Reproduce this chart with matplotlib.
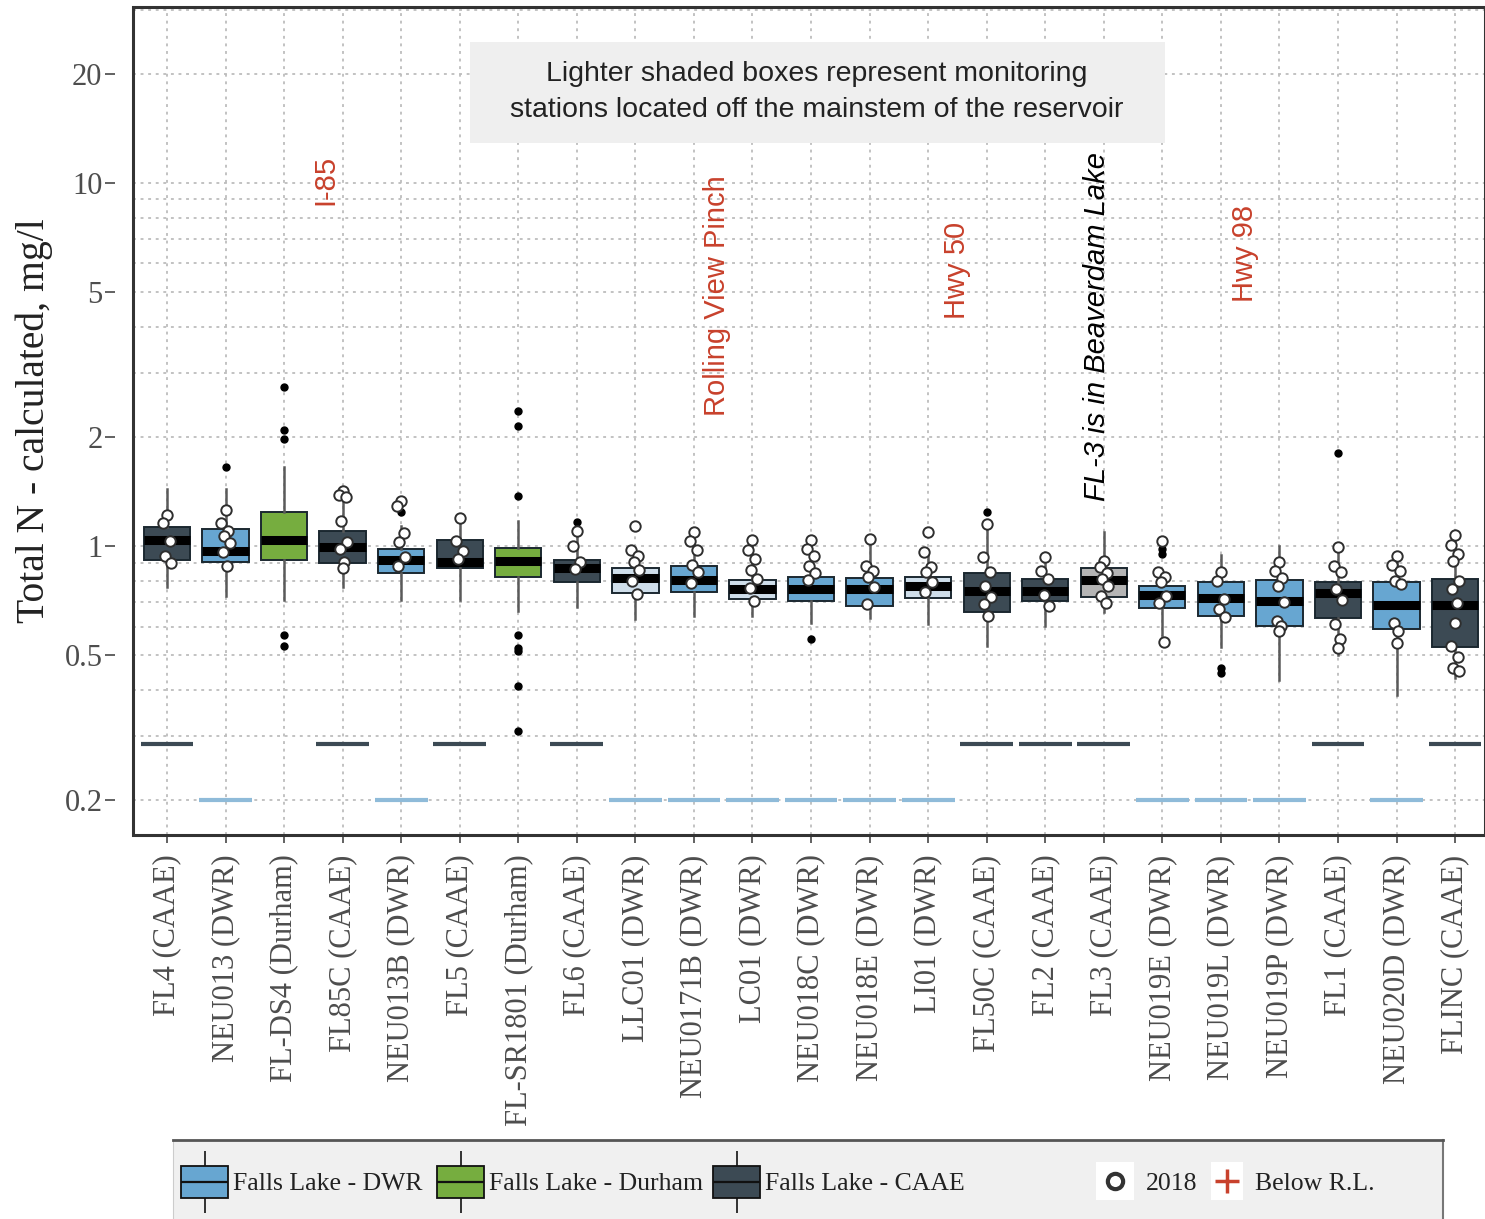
import matplotlib
matplotlib.use("Agg")
import matplotlib.pyplot as plt
from matplotlib.patches import Rectangle
from matplotlib.ticker import FixedLocator, FixedFormatter, LogLocator, NullFormatter

plt.rcParams['font.family'] = ['Liberation Serif', 'DejaVu Serif']

stations = ['FL4 (CAAE)', 'NEU013 (DWR)', 'FL-DS4 (Durham)', 'FL85C (CAAE)', 'NEU013B (DWR)',
            'FL5 (CAAE)', 'FL-SR1801 (Durham)', 'FL6 (CAAE)', 'LLC01 (DWR)', 'NEU0171B (DWR)',
            'LC01 (DWR)', 'NEU018C (DWR)', 'NEU018E (DWR)', 'LI01 (DWR)', 'FL50C (CAAE)',
            'FL2 (CAAE)', 'FL3 (CAAE)', 'NEU019E (DWR)', 'NEU019L (DWR)', 'NEU019P (DWR)',
            'FL1 (CAAE)', 'NEU020D (DWR)', 'FLINC (CAAE)']
agency = ['CAAE', 'DWR', 'Durham', 'CAAE', 'DWR', 'CAAE', 'Durham', 'CAAE', 'DWR', 'DWR',
          'DWR', 'DWR', 'DWR', 'DWR', 'CAAE', 'CAAE', 'CAAE', 'DWR', 'DWR', 'DWR',
          'CAAE', 'DWR', 'CAAE']
# stations off the mainstem get the lighter shade
off_mainstem = ['LLC01 (DWR)', 'LC01 (DWR)', 'LI01 (DWR)', 'FL3 (CAAE)']

# box statistics, mg/l
q1 = [0.916, 0.904, 0.916, 0.898, 0.844, 0.870, 0.823, 0.797, 0.744, 0.748, 0.716, 0.707,
      0.685, 0.721, 0.660, 0.707, 0.725, 0.677, 0.643, 0.604, 0.635, 0.589, 0.526]
median = [1.038, 0.969, 1.038, 0.994, 0.916, 0.904, 0.910, 0.870, 0.817, 0.807, 0.763, 0.763,
          0.763, 0.777, 0.753, 0.753, 0.807, 0.734, 0.721, 0.707, 0.744, 0.690, 0.690]
q3 = [1.127, 1.113, 1.239, 1.099, 0.981, 1.038, 0.988, 0.916, 0.870, 0.882, 0.807, 0.823,
      0.817, 0.823, 0.844, 0.812, 0.870, 0.777, 0.797, 0.807, 0.797, 0.797, 0.812]
whisker_lo = [0.772, 0.730, 0.712, 0.772, 0.712, 0.712, 0.664, 0.681, 0.631, 0.643, 0.643, 0.612,
              0.635, 0.608, 0.532, 0.604, 0.660, 0.567, 0.526, 0.427, 0.500, 0.389, 0.432]
whisker_hi = [1.432, 1.432, 1.655, 1.414, 1.134, 1.186, 1.170, 1.100, 0.975, 1.099, 1.038, 1.038,
              1.045, 0.963, 1.149, 0.933, 1.092, 0.849, 0.945, 1.000, 0.994, 0.939, 1.072]
outliers = [[], [1.655], [2.74, 2.09, 1.975, 0.567, 0.529], [], [1.239], [],
            [2.36, 2.14, 1.37, 0.567, 0.523, 0.513, 0.411, 0.310], [1.163], [], [], [], [0.553],
            [], [], [1.239], [], [], [0.981, 0.951], [0.461, 0.446], [], [1.809], [], []]
samples_2018 = [
    [1.216, 1.156, 1.032, 0.939, 0.898],
    [1.254, 1.156, 1.099, 1.065, 1.019, 0.963, 0.882],
    [],
    [1.414, 1.379, 1.362, 1.170, 1.025, 0.981, 0.904, 0.870],
    [1.328, 1.287, 1.085, 1.025, 0.933, 0.882],
    [1.193, 1.032, 0.969, 0.921],
    [],
    [1.099, 1.000, 0.904, 0.865],
    [1.134, 0.975, 0.939, 0.904, 0.860, 0.802, 0.739],
    [1.092, 1.032, 0.975, 0.887, 0.849, 0.792],
    [1.038, 0.975, 0.921, 0.860, 0.812, 0.767, 0.707],
    [1.038, 0.981, 0.939, 0.882, 0.844, 0.807],
    [1.045, 0.882, 0.854, 0.823, 0.772, 0.694],
    [1.092, 0.963, 0.876, 0.849, 0.797, 0.748],
    [1.149, 0.933, 0.849, 0.777, 0.725, 0.694, 0.643],
    [0.933, 0.854, 0.812, 0.734, 0.685],
    [0.910, 0.876, 0.844, 0.812, 0.777, 0.730, 0.698],
    [1.032, 0.849, 0.823, 0.797, 0.730, 0.698, 0.543],
    [0.849, 0.802, 0.716, 0.672, 0.639],
    [0.904, 0.854, 0.817, 0.777, 0.703, 0.623, 0.604, 0.585],
    [0.994, 0.882, 0.849, 0.763, 0.712, 0.608, 0.556, 0.523],
    [0.939, 0.887, 0.854, 0.802, 0.787, 0.615, 0.585, 0.539],
    [1.072, 1.006, 0.951, 0.910, 0.802, 0.763, 0.698, 0.615, 0.532, 0.494, 0.461, 0.452],
]
# reporting limit per agency
reporting_limit = {'CAAE': 0.285, 'DWR': 0.2}

y_ticks = [0.2, 0.5, 1, 2, 5, 10, 20]
y_ticklabels = ['0.2', '0.5', '1', '2', '5', '10', '20']

fill = {'DWR': '#67a6d1', 'Durham': '#76ad3f', 'CAAE': '#3c4a54'}
fill_light = {'DWR': '#cfdeea', 'CAAE': '#b5b5b5'}
rl_color = {'DWR': '#8fbbd9', 'CAAE': '#3c4a54'}
red = '#c8412c'

W, H = 1485, 1219
fig = plt.figure(figsize=(W / 100, H / 100), dpi=100)
ax = fig.add_axes([133 / W, 1 - 835 / H, 1 - 133 / W, 828 / H])

stats = []
for i, name in enumerate(stations):
    stats.append(dict(label=name, q1=q1[i], med=median[i], q3=q3[i],
                      whislo=whisker_lo[i], whishi=whisker_hi[i], fliers=outliers[i]))

pos = list(range(len(stations)))
bp = ax.bxp(stats, positions=pos, widths=0.79, patch_artist=True, showcaps=False,
            boxprops=dict(edgecolor='#1b2830', linewidth=1.4),
            medianprops=dict(color='black', linewidth=6.5, solid_capstyle='butt'),
            whiskerprops=dict(color='#5a5a5a', linewidth=1.8),
            flierprops=dict(marker='o', markerfacecolor='black', markeredgecolor='black',
                            markersize=5, linestyle='none'),
            zorder=3)
for i, box in enumerate(bp['boxes']):
    if stations[i] in off_mainstem:
        box.set_facecolor(fill_light[agency[i]])
    else:
        box.set_facecolor(fill[agency[i]])

# reporting limit segments
for i, a in enumerate(agency):
    if a in reporting_limit:
        ax.hlines(reporting_limit[a], i - 0.45, i + 0.45, color=rl_color[a], lw=3, zorder=2)

# 2018 samples, spread slightly around the station position
spread = [0.0, -0.07, 0.05, -0.03, 0.07, -0.05, 0.03]
for i, vals in enumerate(samples_2018):
    xs = [i + spread[k % len(spread)] for k in range(len(vals))]
    ax.plot(xs, vals, 'o', ms=7.5, mfc='white', mec='#2e2e2e', mew=1.4, zorder=5)

ax.set_yscale('log')
ax.set_ylim(0.160, 30.5)
ax.set_xlim(-0.58, 22.51)
ax.yaxis.set_major_locator(FixedLocator(y_ticks))
ax.yaxis.set_major_formatter(FixedFormatter(y_ticklabels))
ax.yaxis.set_minor_locator(LogLocator(base=10, subs=range(1, 10), numticks=20))
ax.yaxis.set_minor_formatter(NullFormatter())
ax.set_xticks(pos)
ax.set_xticklabels(stations, rotation=90)

grid_style = dict(color='#bdbdbd', linestyle=(0, (1.6, 2.6)), linewidth=1.3)
ax.grid(True, which='both', axis='y', **grid_style)
ax.grid(True, which='major', axis='x', **grid_style)
ax.set_axisbelow(True)

ax.tick_params(axis='y', which='major', length=7, width=1.3, color='#555555',
               labelsize=22, labelcolor='#4d4d4d', pad=2)
ax.tick_params(axis='y', which='minor', length=0)
ax.tick_params(axis='x', length=6, width=1.3, color='#555555', labelsize=22,
               labelcolor='#4d4d4d', pad=8)

for s in ax.spines.values():
    s.set_color('none')
ax.spines['left'].set_position(('outward', 13))
ax.add_patch(Rectangle((0, 0), 1, 1, transform=ax.transAxes, fill=False,
                       edgecolor='#333333', linewidth=2.2, clip_on=False, zorder=6))

ax.set_ylabel('Total N - calculated, mg/l', fontsize=28.5, color='#222222', labelpad=8)

# note box
fig.patches.append(Rectangle((470 / W, 1 - 143 / H), 695 / W, 101 / H,
                             transform=fig.transFigure, facecolor='#efefef',
                             edgecolor='none', zorder=4))
fig.text(817 / W, 1 - 92 / H,
         'Lighter shaded boxes represent monitoring\nstations located off the mainstem of the reservoir',
         ha='center', va='center', fontsize=20.5, family='Liberation Sans', color='#222222',
         linespacing=1.5, zorder=5)

# landmarks along the reservoir
ax.text(2.70, 10.2, 'I-85', rotation=90, ha='center', va='center', color=red,
        fontsize=21, family='Liberation Sans')
ax.text(9.39, 4.89, 'Rolling View Pinch', rotation=90, ha='center', va='center', color=red,
        fontsize=21, family='Liberation Sans')
ax.text(13.49, 5.73, 'Hwy 50', rotation=90, ha='center', va='center', color=red,
        fontsize=21, family='Liberation Sans')
ax.text(15.88, 4.03, 'FL-3 is in Beaverdam Lake', rotation=90, ha='center', va='center',
        color='black', fontsize=21, family='Liberation Sans', style='italic')
ax.text(18.41, 6.38, 'Hwy 98', rotation=90, ha='center', va='center', color=red,
        fontsize=21, family='Liberation Sans')

# legend strip along the bottom, laid out in pixel units
lax = fig.add_axes([173 / W, 0, 1270 / W, 79 / H])
lax.set_xlim(173, 1443)
lax.set_ylim(1219, 1140)
lax.set_facecolor('#f0f0f0')
lax.set_xticks([])
lax.set_yticks([])
lax.spines['bottom'].set_visible(False)
lax.spines['top'].set_color('#555555')
lax.spines['top'].set_linewidth(2)
lax.spines['right'].set_color('#777777')
lax.spines['right'].set_linewidth(1.5)
lax.spines['left'].set_color('#cccccc')

legend_items = [('DWR', 181, 'Falls Lake - DWR'), ('Durham', 437, 'Falls Lake - Durham'),
                ('CAAE', 713, 'Falls Lake - CAAE')]
for key, x0, label in legend_items:
    lax.vlines(x0 + 23.5, 1151, 1213, color='#222222', lw=1.3, zorder=2)
    lax.add_patch(Rectangle((x0, 1166), 47, 32, facecolor=fill[key], edgecolor='#111111',
                            lw=1.3, zorder=3))
    lax.hlines(1182, x0, x0 + 47, color='#111111', lw=1.6, zorder=4)
    lax.text(x0 + 52, 1184, label, ha='left', va='center', fontsize=18.5, color='#222222')

lax.add_patch(Rectangle((1096, 1162), 38, 38, facecolor='white', edgecolor='none'))
lax.plot([1115], [1181], 'o', ms=11, mfc='white', mec='#333333', mew=3)
lax.text(1146, 1184, '2018', ha='left', va='center', fontsize=18.5, color='#222222')
lax.add_patch(Rectangle((1211, 1162), 32, 38, facecolor='white', edgecolor='none'))
lax.plot([1227], [1181], '+', ms=17, mec=red, mew=2.5)
lax.text(1255, 1184, 'Below R.L.', ha='left', va='center', fontsize=18.5, color='#222222')

fig.savefig('out.png', dpi=100)
